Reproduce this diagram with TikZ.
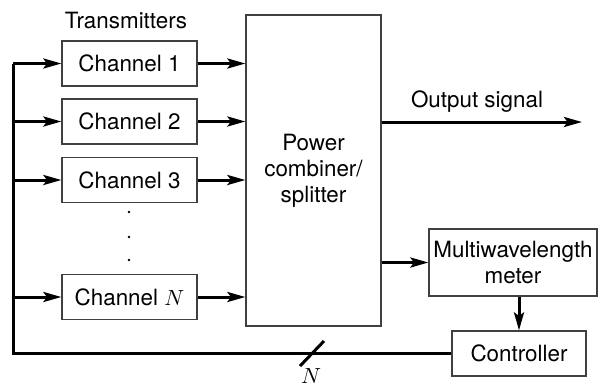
\documentclass[tikz,border=0pt]{standalone}
\usepackage{fontspec}
\setmainfont{TeX Gyre Heros}
\usetikzlibrary{arrows.meta,calc}
\begin{document}
\begin{tikzpicture}[x=0.5pt,y=-0.5pt,
  box/.style={draw=black!75,line width=0.6pt,inner sep=0pt,align=center,font=\fontsize{11.2}{13}\selectfont},
  conn/.style={line width=1.5pt,-{Stealth[length=9pt,width=5pt,inset=1.8pt]}},
  plain/.style={line width=1.5pt},
  lbl/.style={font=\fontsize{11.2}{13}\selectfont,inner sep=0pt}]
\useasboundingbox (0,0) rectangle (603,387);
\node[box,minimum width=67.5pt,minimum height=22.5pt] (ch1) at (129.5,63.5) {Channel 1};
\node[box,minimum width=67.5pt,minimum height=22.5pt] (ch2) at (129.5,121.5) {Channel 2};
\node[box,minimum width=67.5pt,minimum height=22.5pt] (ch3) at (129.5,180) {Channel 3};
\node[box,minimum width=67.5pt,minimum height=22.5pt] (chN) at (129.5,297) {Channel $N$};
\node[box,minimum width=67.5pt,minimum height=155.5pt] (pc) at (313.5,170.5) {Power\\combiner/\\splitter};
\node[box,minimum width=84pt,minimum height=33.5pt] (mw) at (513,262.5) {Multiwavelength\\meter};
\node[box,minimum width=67pt,minimum height=22.5pt] (ctl) at (519,353.5) {Controller};
\node[lbl] (tx) at (126,20) {Transmitters};
\node[lbl] (os) at (477,102) {Output signal};
\node[lbl] (nl) at (311,376.5) {$N$};
\foreach \yy in {212,237,260} \fill (129,\yy) circle (0.65pt);
\coordinate (bus) at (13,0);
\coordinate (out) at (582,122);
\foreach \c in {ch1,ch2,ch3,chN} \draw[conn] (\c.east) -- (\c.east -| pc.west);
\draw[conn] (pc.east |- out) -- (out);
\draw[conn] (pc.east |- mw.west) -- (mw.west);
\draw[conn] (ctl.north |- mw.south) -- (ctl.north);
\draw[plain] (ctl.west) -- (ctl.west -| bus) -- (ch1.west -| bus);
\foreach \c in {ch1,ch2,ch3,chN} \draw[conn] (\c.west -| bus) -- (\c.west);
\coordinate (s1) at (300,366);
\coordinate (s2) at (324,341);
\draw[plain] (s1) -- (s2);
\end{tikzpicture}
\end{document}
